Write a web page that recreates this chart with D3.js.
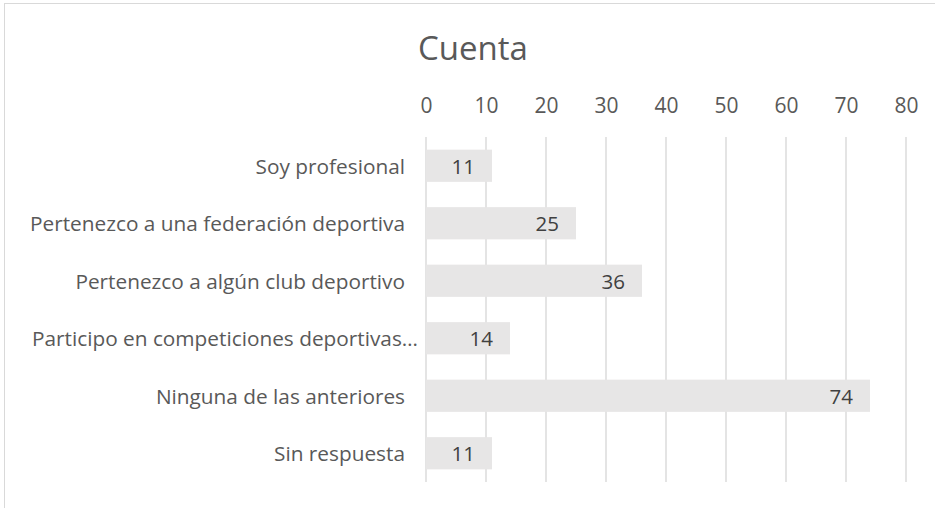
<!DOCTYPE html>
<html>
<head>
<meta charset="utf-8">
<script src="https://cdn.jsdelivr.net/npm/d3@7"></script>
<style>
  body { margin: 0; background: #fff; }
  svg text { font-family: "Open Sans", sans-serif; }
</style>
</head>
<body>
<div id="chart"></div>
<script>
// data
const categories = [
    "Soy profesional",
    "Pertenezco a una federación deportiva",
    "Pertenezco a algún club deportivo",
    "Participo en competiciones deportivas…",
    "Ninguna de las anteriores",
    "Sin respuesta"
];
const values = [11, 25, 36, 14, 74, 11];
const tickValues = [0, 10, 20, 30, 40, 50, 60, 70, 80];
const title = "Cuenta";

const W = 935, H = 508;
const margin = {top: 137, right: 29, bottom: 26, left: 426};
const width = W - margin.left - margin.right,
    height = H - margin.top - margin.bottom;

const root = d3.select("#chart")
    .append("svg")
    .attr("width", W)
    .attr("height", H);

// chart area border (only top and left visible)
root.append("rect")
    .attr("x", 4.5)
    .attr("y", 3.5)
    .attr("width", W + 20)
    .attr("height", H + 20)
    .attr("fill", "none")
    .attr("stroke", "#d9d9d9")
    .attr("stroke-width", 1);

const svg = root.append("g")
    .attr("transform", `translate(${margin.left},${margin.top})`);

const x = d3.scaleLinear()
    .domain([0, 80])
    .range([0, width]);

const y = d3.scaleBand()
    .domain(categories)
    .range([0, height])
    .paddingInner(0.44)
    .paddingOuter(0.22);

// gridlines
svg.append("g")
    .selectAll("line")
    .data(tickValues)
    .enter()
    .append("line")
    .attr("x1", d => x(d))
    .attr("x2", d => x(d))
    .attr("y1", 0)
    .attr("y2", height)
    .attr("stroke", "#d9d9d9")
    .attr("stroke-width", 1.4);

// top axis labels
const xAxis = svg.append("g")
    .attr("transform", "translate(0,-24)")
    .call(d3.axisTop(x).tickValues(tickValues).tickSize(0).tickPadding(0));
xAxis.select(".domain").remove();
xAxis.selectAll("text")
    .style("font-family", "Open Sans, sans-serif")
    .style("font-size", "21px")
    .attr("fill", "#595959");

// bars
svg.selectAll(".bar")
    .data(values)
    .enter()
    .append("rect")
    .attr("class", "bar")
    .attr("x", x(0))
    .attr("y", (d, i) => y(categories[i]))
    .attr("width", d => x(d) - x(0))
    .attr("height", y.bandwidth())
    .attr("fill", "#e7e6e6");

// value labels, inside end
svg.selectAll(".val")
    .data(values)
    .enter()
    .append("text")
    .attr("class", "val")
    .attr("x", d => x(d) - 17)
    .attr("y", (d, i) => y(categories[i]) + y.bandwidth() / 2)
    .attr("text-anchor", "end")
    .attr("dominant-baseline", "central")
    .style("font-size", "20.5px")
    .attr("fill", "#404040")
    .text(d => d);

// category labels (the truncated one sits closer to the axis, like Excel does)
svg.selectAll(".cat")
    .data(categories)
    .enter()
    .append("text")
    .attr("class", "cat")
    .attr("x", d => d.endsWith("…") ? -8 : -21)
    .attr("y", d => y(d) + y.bandwidth() / 2)
    .attr("text-anchor", "end")
    .attr("dominant-baseline", "central")
    .style("font-size", "20.8px")
    .attr("fill", "#595959")
    .text(d => d);

// title
root.append("text")
    .attr("x", 473)
    .attr("y", 47)
    .attr("text-anchor", "middle")
    .attr("dominant-baseline", "central")
    .style("font-size", "33px")
    .attr("fill", "#595959")
    .text(title);
</script>
</body>
</html>
